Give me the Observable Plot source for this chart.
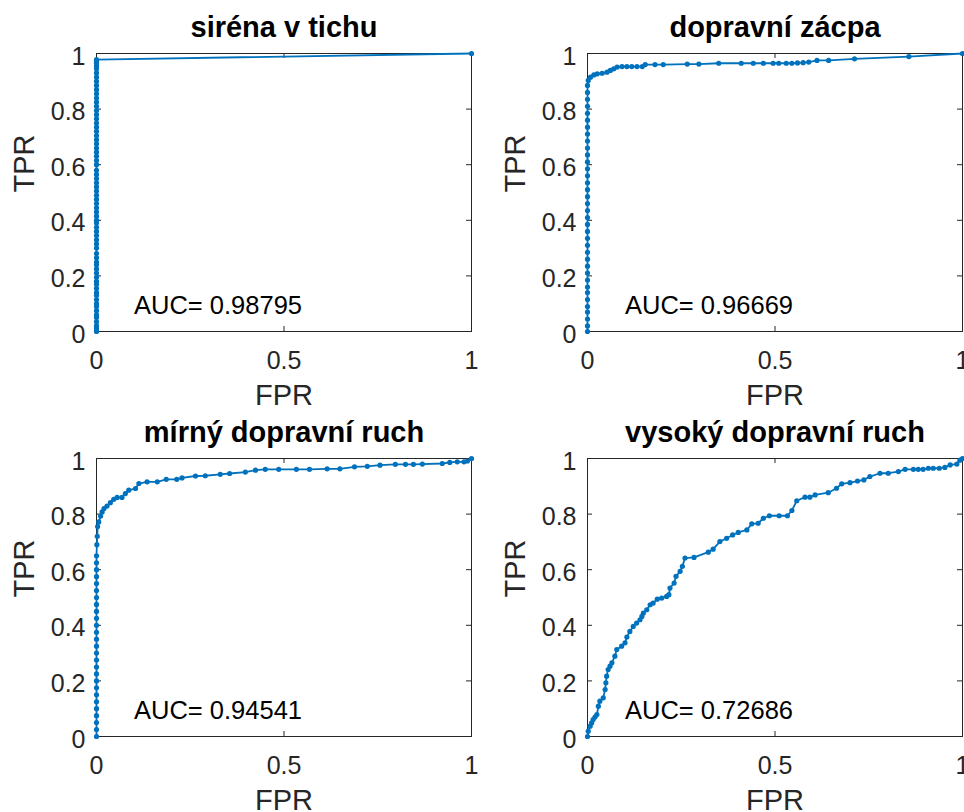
<!DOCTYPE html>
<html>
<head>
<meta charset="utf-8">
<script src="https://cdn.jsdelivr.net/npm/d3@7"></script>
<script src="https://cdn.jsdelivr.net/npm/@observablehq/plot@0.6"></script>
<style>
  html, body { margin: 0; padding: 0; background: #fff; }
  #wrap { position: relative; width: 964px; height: 812px; overflow: hidden; background: #fff; }
  .panel { position: absolute; width: 482px; }
  .panel svg { max-width: none !important; }
</style>
</head>
<body>
<div id="wrap"></div>
<script>
// ---- Data ----
const titles = ["siréna v tichu", "dopravní zácpa", "mírný dopravní ruch", "vysoký dopravní ruch"];
const aucLabels = ["AUC= 0.98795", "AUC= 0.96669", "AUC= 0.94541", "AUC= 0.72686"];
const xTicks = [0, 0.5, 1];
const yTicks = [0, 0.2, 0.4, 0.6, 0.8, 1];
const xLabel = "FPR";
const yLabel = "TPR";

// siréna v tichu
const fpr1 = [0,0,0,0,0,0,0,0,0,0,0,0,0,0,0,0,0,0,0,0,0,0,0,0,0,0,0,0,0,0,0,0,0,0,0,0,0,0,0,0,0,0,0,0,0,0,0,0,0,0,0,0,0,0,0,0,0,0,0,0,0,0,0,0,0,0,0,0,0,0,1];
const tpr1 = [0,0.01,0.02,0.035,0.05,0.06,0.075,0.09,0.1,0.115,0.13,0.14,0.155,0.17,0.18,0.195,0.21,0.225,0.24,0.25,0.265,0.28,0.3,0.315,0.33,0.345,0.36,0.375,0.39,0.4,0.415,0.43,0.445,0.46,0.475,0.49,0.505,0.52,0.535,0.55,0.565,0.58,0.6,0.615,0.63,0.645,0.66,0.675,0.69,0.705,0.72,0.735,0.75,0.765,0.78,0.795,0.81,0.825,0.84,0.855,0.87,0.885,0.9,0.915,0.93,0.945,0.955,0.965,0.972,0.978,1];

// dopravní zácpa
const fpr2 = [0,0,0,0,0,0,0,0,0,0,0,0,0,0,0,0,0,0,0,0,0,0,0,0,0,0,0,0,0,0,0,0,0,0,0,0,0,0.002,0.008,0.017,0.026,0.039,0.052,0.061,0.07,0.079,0.092,0.105,0.118,0.132,0.146,0.154,0.18,0.202,0.266,0.297,0.35,0.41,0.442,0.469,0.495,0.51,0.53,0.545,0.56,0.575,0.59,0.612,0.643,0.712,0.857,1];
const tpr2 = [0,0.02,0.045,0.07,0.09,0.115,0.14,0.16,0.185,0.21,0.235,0.26,0.285,0.31,0.335,0.36,0.385,0.41,0.435,0.46,0.485,0.51,0.535,0.56,0.585,0.61,0.635,0.66,0.685,0.71,0.735,0.76,0.785,0.81,0.835,0.86,0.885,0.903,0.915,0.923,0.927,0.929,0.933,0.939,0.945,0.951,0.953,0.953,0.953,0.953,0.953,0.96,0.96,0.96,0.962,0.962,0.965,0.965,0.965,0.965,0.965,0.965,0.965,0.965,0.966,0.967,0.969,0.975,0.975,0.981,0.989,1];

// mírný dopravní ruch
const fpr3 = [0,0,0,0,0,0,0,0,0,0,0,0,0,0,0,0,0,0,0,0,0,0,0,0,0,0,0,0.001,0.002,0.003,0.006,0.011,0.015,0.02,0.028,0.037,0.046,0.055,0.068,0.077,0.086,0.104,0.113,0.135,0.162,0.186,0.214,0.228,0.264,0.29,0.33,0.355,0.397,0.424,0.45,0.486,0.533,0.568,0.615,0.649,0.688,0.722,0.756,0.797,0.824,0.845,0.869,0.922,0.942,0.962,0.98,0.989,1];
const tpr3 = [0,0.025,0.05,0.075,0.1,0.125,0.15,0.175,0.2,0.225,0.25,0.275,0.3,0.325,0.35,0.375,0.4,0.425,0.45,0.475,0.5,0.525,0.55,0.575,0.6,0.625,0.65,0.69,0.72,0.755,0.772,0.793,0.808,0.82,0.829,0.841,0.853,0.86,0.86,0.874,0.886,0.892,0.91,0.916,0.916,0.925,0.925,0.93,0.937,0.938,0.943,0.946,0.951,0.958,0.961,0.961,0.961,0.961,0.963,0.963,0.97,0.972,0.976,0.979,0.979,0.979,0.98,0.982,0.986,0.988,0.988,0.991,1];

// vysoký dopravní ruch
const fpr4 = [0,0.002,0.007,0.011,0.015,0.02,0.025,0.029,0.033,0.042,0.047,0.049,0.051,0.055,0.06,0.065,0.073,0.078,0.091,0.1,0.105,0.113,0.122,0.131,0.14,0.145,0.149,0.158,0.167,0.175,0.186,0.198,0.211,0.217,0.22,0.231,0.236,0.247,0.253,0.26,0.284,0.322,0.335,0.353,0.371,0.387,0.402,0.425,0.438,0.455,0.469,0.485,0.511,0.533,0.545,0.558,0.58,0.593,0.607,0.642,0.664,0.678,0.7,0.72,0.737,0.753,0.78,0.802,0.829,0.847,0.869,0.882,0.895,0.909,0.922,0.938,0.953,0.967,0.985,0.993,1];
const tpr4 = [0,0.019,0.037,0.049,0.061,0.07,0.079,0.109,0.127,0.139,0.169,0.193,0.217,0.241,0.253,0.265,0.289,0.313,0.325,0.337,0.358,0.378,0.396,0.408,0.42,0.432,0.444,0.456,0.474,0.48,0.494,0.498,0.504,0.51,0.534,0.552,0.576,0.594,0.612,0.642,0.644,0.663,0.674,0.701,0.713,0.725,0.734,0.743,0.765,0.767,0.785,0.794,0.794,0.794,0.813,0.848,0.861,0.861,0.869,0.877,0.893,0.909,0.913,0.919,0.923,0.935,0.947,0.947,0.953,0.961,0.961,0.961,0.961,0.965,0.965,0.965,0.968,0.977,0.98,0.994,1];

const series = [[fpr1, tpr1], [fpr2, tpr2], [fpr3, tpr3], [fpr4, tpr4]];

// ---- Layout ----
const FONT = "'Liberation Sans', Arial, Helvetica, sans-serif";
const AX = "#262626";
const LINE = "#0072BD";
const PW = 375, PH = 278, ML = 96, MT = 53, W = 482;
const places = [[0, 0, 406], [491, 0, 406], [0, 405, 407], [491, 405, 407]];

function panel(i) {
  const [fpr, tpr] = series[i];
  const data = fpr.map((f, k) => ({fpr: f, tpr: tpr[k]}));
  const H = places[i][2];
  return Plot.plot({
    width: W,
    height: H,
    marginLeft: ML,
    marginRight: W - ML - PW,
    marginTop: MT,
    marginBottom: H - MT - PH,
    style: {fontFamily: FONT, background: "transparent", color: AX, overflow: "visible", maxWidth: "none"},
    x: {domain: [0, 1]},
    y: {domain: [0, 1]},
    marks: [
      Plot.frame({stroke: AX, strokeWidth: 1}),
      // inward ticks on all four sides
      Plot.tickY(yTicks, {y: d => d, insetRight: PW - 5, stroke: AX}),
      Plot.tickY(yTicks, {y: d => d, insetLeft: PW - 5, stroke: AX}),
      Plot.tickX(xTicks, {x: d => d, insetTop: PH - 5, stroke: AX}),
      Plot.tickX(xTicks, {x: d => d, insetBottom: PH - 5, stroke: AX}),
      Plot.axisX(xTicks, {tickSize: 0, tickPadding: 20, fontSize: 25, label: null, tickFormat: d => String(d)}),
      Plot.axisY(yTicks, {tickSize: 0, tickPadding: 11, fontSize: 25, label: null, dy: 3, tickFormat: d => String(d)}),
      Plot.line(data, {x: "fpr", y: "tpr", stroke: LINE, strokeWidth: 1.8}),
      Plot.dot(data, {x: "fpr", y: "tpr", r: 2.6, fill: LINE, stroke: null}),
      Plot.text([aucLabels[i]], {x: 0.1, y: 0.1, text: d => d, textAnchor: "start", lineAnchor: "middle", fontSize: 25.5, dy: 2, fill: "#000"}),
      Plot.text([titles[i]], {frameAnchor: "top", text: d => d, lineAnchor: "middle", dy: -26, fontSize: 29, fontWeight: "bold", fill: "#000"}),
      Plot.text([xLabel], {frameAnchor: "bottom", text: d => d, lineAnchor: "middle", dy: 64, fontSize: 29, fill: AX}),
      Plot.text([yLabel], {frameAnchor: "left", text: d => d, lineAnchor: "middle", rotate: -90, dx: -72, fontSize: 29, fill: AX})
    ]
  });
}

const wrap = document.getElementById("wrap");
for (let i = 0; i < 4; i++) {
  const d = document.createElement("div");
  d.className = "panel";
  d.style.left = places[i][0] + "px";
  d.style.top = places[i][1] + "px";
  d.appendChild(panel(i));
  wrap.appendChild(d);
}
</script>
</body>
</html>
